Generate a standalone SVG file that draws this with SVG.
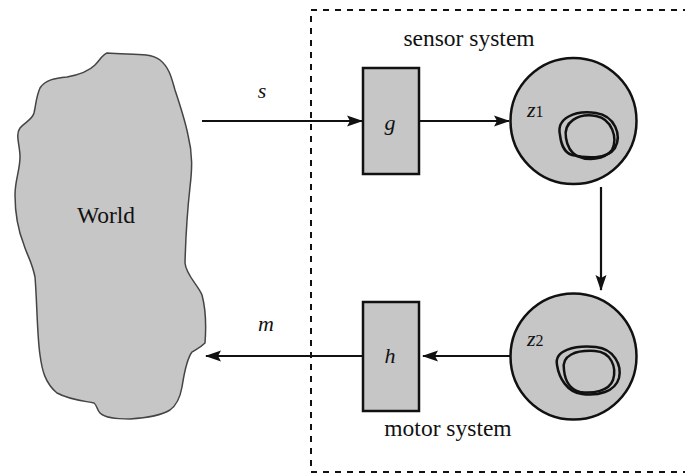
<svg xmlns="http://www.w3.org/2000/svg" width="685" height="474" viewBox="0 0 685 474">
<style>
.box{fill:#c6c6c6;stroke:#111;stroke-width:2.5}
.circ{fill:#c6c6c6;stroke:#111;stroke-width:2.5}
.loop{fill:none;stroke:#111;stroke-width:2.5}
.line{stroke:#111;stroke-width:2.2;fill:none}
.lbl{font-family:"Liberation Serif","Times New Roman",serif;font-size:23.5px;fill:#111}
.it{font-family:"Liberation Serif","Times New Roman",serif;font-style:italic;font-size:22px;fill:#111}
.sm{font-family:"Liberation Serif","Times New Roman",serif;font-size:16px;fill:#111}
</style>
<defs>
<marker id="arr" markerWidth="16" markerHeight="12" refX="15" refY="6" orient="auto" markerUnits="userSpaceOnUse">
<path d="M0,0.5 L16,6 L0,11.5 L3,6 Z" fill="#111"/>
</marker>
</defs>
<rect width="685" height="474" fill="#fff"/>
<g id="boundary">
<rect x="311" y="10" width="390" height="462" fill="none" stroke="#111" stroke-width="2" stroke-dasharray="6,6"/>
<text class="lbl" x="469" y="46" text-anchor="middle" font-family="Liberation Serif, serif">sensor system</text>
<text class="lbl" x="448" y="436" text-anchor="middle" font-family="Liberation Serif, serif">motor system</text>
</g>
<g id="world">
<path d="M107,53 C130,55 150,52 160,60 C170,68 172,80 175,90 C180,105 185,120 188,135 C193,155 192,170 190,187 C188,205 186,225 185,263 C186,275 198,285 202,295 C206,310 206,330 205,343 C200,348 195,350 192,352 C186,360 184,375 182,387 C180,398 177,405 170,410 C160,416 145,418 130,419 C115,419 105,418 100,413 C97,410 97,405 94,403 C85,401 70,400 57,393 C45,383 42,370 40,355 C37,335 37,300 35,277 C32,262 27,255 24,245 C18,230 15,215 15,195 C15,180 20,170 20,157 C20,145 15,135 20,128 C25,122 32,120 34,113 C36,105 36,97 40,88 C45,80 55,78 67,77 C78,75 88,72 95,65 C100,60 102,55 107,53 Z" fill="#c6c6c6" stroke="#444" stroke-width="1.5"/>
<text class="lbl" x="106" y="223" text-anchor="middle" font-family="Liberation Serif, serif">World</text>
</g>
<g id="g">
<rect class="box" x="363" y="68" width="56" height="106"/>
<text class="it" x="390" y="130" text-anchor="middle" font-family="Liberation Serif, serif">g</text>
</g>
<g id="h">
<rect class="box" x="363" y="302" width="56" height="109"/>
<text class="it" x="390" y="363" text-anchor="middle" font-family="Liberation Serif, serif">h</text>
</g>
<g id="z1">
<circle class="circ" cx="573.5" cy="121" r="63"/>
<text x="527" y="117" font-family="Liberation Serif, serif"><tspan class="it" font-size="19">z</tspan><tspan class="sm" font-size="15">1</tspan></text>
<path class="loop" d="M560,135 C556,118 575,110 596,113 C615,116 622,135 615,148 C607,160 585,158 572,155 C563,152 561,143 560,135 Z"/>
<path class="loop" d="M566,138 C563,122 578,113 596,116 C612,119 618,138 612,150 C604,160 588,161 577,156 C570,152 567,145 566,138 Z"/>
</g>
<g id="z2">
<circle class="circ" cx="573.5" cy="356.5" r="63"/>
<text x="527" y="346" font-family="Liberation Serif, serif"><tspan class="it" font-size="19">z</tspan><tspan class="sm" font-size="15">2</tspan></text>
<path class="loop" d="M557,365 C554,350 575,345 596,347 C614,349 622,365 619,378 C615,392 598,396 582,394 C567,392 559,378 557,365 Z"/>
<path class="loop" d="M564,370 C561,355 576,350 595,351 C611,352 617,367 613,380 C609,391 593,394 580,392 C569,389 565,380 564,370 Z"/>
</g>
<g id="connectors">
<line class="line" x1="202" y1="121" x2="362" y2="121" marker-end="url(#arr)"/>
<line class="line" x1="419" y1="121" x2="509" y2="121" marker-end="url(#arr)"/>
<line class="line" x1="601" y1="187" x2="601" y2="290" marker-end="url(#arr)"/>
<line class="line" x1="510" y1="356" x2="423" y2="356" marker-end="url(#arr)"/>
<line class="line" x1="363" y1="356" x2="206" y2="356" marker-end="url(#arr)"/>
<text class="it" x="262" y="98" text-anchor="middle" font-family="Liberation Serif, serif">s</text>
<text class="it" x="266" y="331" text-anchor="middle" font-family="Liberation Serif, serif">m</text>
</g>
</svg>
